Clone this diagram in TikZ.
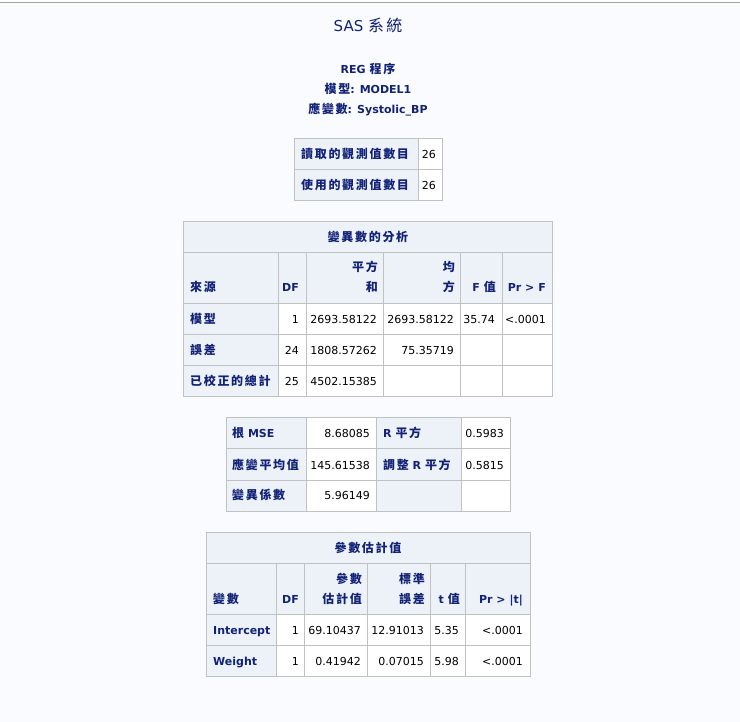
\documentclass[tikz,border=0pt]{standalone}
\usepackage{fontspec}
\setmainfont{DejaVu Sans}
\newfontfamily\cjk[LetterSpace=14]{Noto Sans CJK TC}
\usetikzlibrary{positioning}
\newcommand{\zh}[1]{{\cjk\fontsize{12}{14}\selectfont #1}}
\definecolor{sasbg}{HTML}{FAFBFE}
\definecolor{sashead}{HTML}{EDF2F9}
\definecolor{sasgrid}{HTML}{C1C1C1}
\definecolor{sasnavy}{HTML}{112277}
\definecolor{sasrule}{HTML}{A0A0A0}
\tikzset{
    grid/.style={draw=sasgrid, line width=1pt},
    lbl/.style={text=sasnavy, font=\fontsize{11}{13}\selectfont\bfseries, inner sep=0pt, text height=8pt, text depth=0pt},
    val/.style={text=black, font=\fontsize{11}{13}\selectfont, inner sep=0pt, text height=8pt, text depth=0pt}
}
\begin{document}
\begin{tikzpicture}[x=1pt, y=-1pt]
        \fill[sasbg] (0,0) rectangle (740,722);
        \useasboundingbox (0,0) rectangle (740,722);
        \fill[white] (0,0) rectangle (740,2.5);
        \draw[sasrule, line width=1pt] (0,3) -- (740,3);

        % titles
        \node[text=sasnavy, inner sep=0pt, font=\fontsize{15}{17}\selectfont] (title) at (368,25) {SAS {\cjk\fontsize{16}{18}\selectfont 系統}};
        \node[lbl] (proc) at (368,69.5) {REG \zh{程序}};
        \node[lbl] (model) at (368,89.5) {\zh{模型}: MODEL1};
        \node[lbl] (dep) at (368,109.5) {\zh{應變數}: Systolic\_BP};

        % observations
        \fill[sashead] (294,139) rectangle (418,201);
        \fill[white] (418,139) rectangle (442,201);
        \draw[grid] (294,139) rectangle (442,201);
        \draw[grid] (294,170) -- (442,170);
        \draw[grid] (418,139) -- (418,201);
        \node[lbl, anchor=west] (nread) at (301,155) {\zh{讀取的觀測值數目}};
        \node[lbl, anchor=west] (nused) at (301,186) {\zh{使用的觀測值數目}};
        \node[val, anchor=east] (vread) at (436,155) {26};
        \node[val, anchor=east] (vused) at (436,186) {26};

        % analysis of variance
        \fill[sashead] (183,222) rectangle (552,397);
        \fill[white] (278,304) rectangle (552,397);
        \draw[grid] (183,222) rectangle (552,397);
        \foreach \y in {253,304,335,366} \draw[grid] (183,\y) -- (552,\y);
        \foreach \x in {278,306,383,460,502} \draw[grid] (\x,253) -- (\x,397);
        \node[lbl] (anova) at (368,238) {\zh{變異數的分析}};
        \node[lbl, anchor=west] (src) at (190,288) {\zh{來源}};
        \node[lbl, anchor=east] (adf) at (299,288) {DF};
        \node[lbl, anchor=east] (ss1) at (378,268) {\zh{平方}};
        \node[lbl, anchor=east] (ss2) at (378,288) {\zh{和}};
        \node[lbl, anchor=east] (ms1) at (455,268) {\zh{均}};
        \node[lbl, anchor=east] (ms2) at (455,288) {\zh{方}};
        \node[lbl, anchor=east] (fv) at (496,288) {F \zh{值}};
        \node[lbl, anchor=east] (pf) at (546,288) {Pr > F};
        \node[lbl, anchor=west] (rmod) at (190,320) {\zh{模型}};
        \node[lbl, anchor=west] (rerr) at (190,351) {\zh{誤差}};
        \node[lbl, anchor=west] (rtot) at (190,382) {\zh{已校正的總計}};
        \node[val, anchor=east] (dfm) at (299,320) {1};
        \node[val, anchor=east] (dfe) at (299,351) {24};
        \node[val, anchor=east] (dft) at (299,382) {25};
        \node[val, anchor=east] (ssm) at (377,320) {2693.58122};
        \node[val, anchor=east] (sse) at (377,351) {1808.57262};
        \node[val, anchor=east] (sst) at (377,382) {4502.15385};
        \node[val, anchor=east] (msm) at (454,320) {2693.58122};
        \node[val, anchor=east] (mse) at (454,351) {75.35719};
        \node[val, anchor=east] (fval) at (495,320) {35.74};
        \node[val, anchor=east] (pval) at (546,320) {<.0001};

        % fit statistics
        \fill[sashead] (226,418) rectangle (510,511);
        \fill[white] (306,418) rectangle (376,511);
        \fill[white] (461,418) rectangle (510,511);
        \draw[grid] (226,418) rectangle (510,511);
        \foreach \y in {449,480} \draw[grid] (226,\y) -- (510,\y);
        \foreach \x in {306,376,461} \draw[grid] (\x,418) -- (\x,511);
        \node[lbl, anchor=west] (rmse) at (232,434) {\zh{根} MSE};
        \node[lbl, anchor=west] (dmean) at (232,465) {\zh{應變平均值}};
        \node[lbl, anchor=west] (cv) at (232,496) {\zh{變異係數}};
        \node[val, anchor=east] (vrmse) at (370,434) {8.68085};
        \node[val, anchor=east] (vdmean) at (370,465) {145.61538};
        \node[val, anchor=east] (vcv) at (370,496) {5.96149};
        \node[lbl, anchor=west] (rsq) at (383,434) {R \zh{平方}};
        \node[lbl, anchor=west] (adjrsq) at (383,465) {\zh{調整} R \zh{平方}};
        \node[val, anchor=east] (vrsq) at (504,434) {0.5983};
        \node[val, anchor=east] (vadjrsq) at (504,465) {0.5815};

        % parameter estimates
        \fill[sashead] (206,532) rectangle (530,676);
        \fill[white] (276,614) rectangle (530,676);
        \draw[grid] (206,532) rectangle (530,676);
        \foreach \y in {563,614,645} \draw[grid] (206,\y) -- (530,\y);
        \foreach \x in {276,304,367,430,465} \draw[grid] (\x,563) -- (\x,676);
        \node[lbl] (pest) at (368,548) {\zh{參數估計值}};
        \node[lbl, anchor=west] (var) at (213,599) {\zh{變數}};
        \node[lbl, anchor=east] (pdf) at (299,599) {DF};
        \node[lbl, anchor=east] (est1) at (362,579) {\zh{參數}};
        \node[lbl, anchor=east] (est2) at (362,599) {\zh{估計值}};
        \node[lbl, anchor=east] (se1) at (425,579) {\zh{標準}};
        \node[lbl, anchor=east] (se2) at (425,599) {\zh{誤差}};
        \node[lbl, anchor=east] (tv) at (460,599) {t \zh{值}};
        \node[lbl, anchor=east] (pt) at (523,599) {Pr > |t|};
        \node[lbl, anchor=west] (icpt) at (213,630) {Intercept};
        \node[lbl, anchor=west] (wt) at (213,661) {Weight};
        \node[val, anchor=east] (dfi) at (299,630) {1};
        \node[val, anchor=east] (dfw) at (299,661) {1};
        \node[val, anchor=east] (esti) at (361,630) {69.10437};
        \node[val, anchor=east] (estw) at (361,661) {0.41942};
        \node[val, anchor=east] (sei) at (424,630) {12.91013};
        \node[val, anchor=east] (sew) at (424,661) {0.07015};
        \node[val, anchor=east] (ti) at (459,630) {5.35};
        \node[val, anchor=east] (tw) at (459,661) {5.98};
        \node[val, anchor=east] (pi) at (523,630) {<.0001};
        \node[val, anchor=east] (pw) at (523,661) {<.0001};
    \end{tikzpicture}
\end{document}
